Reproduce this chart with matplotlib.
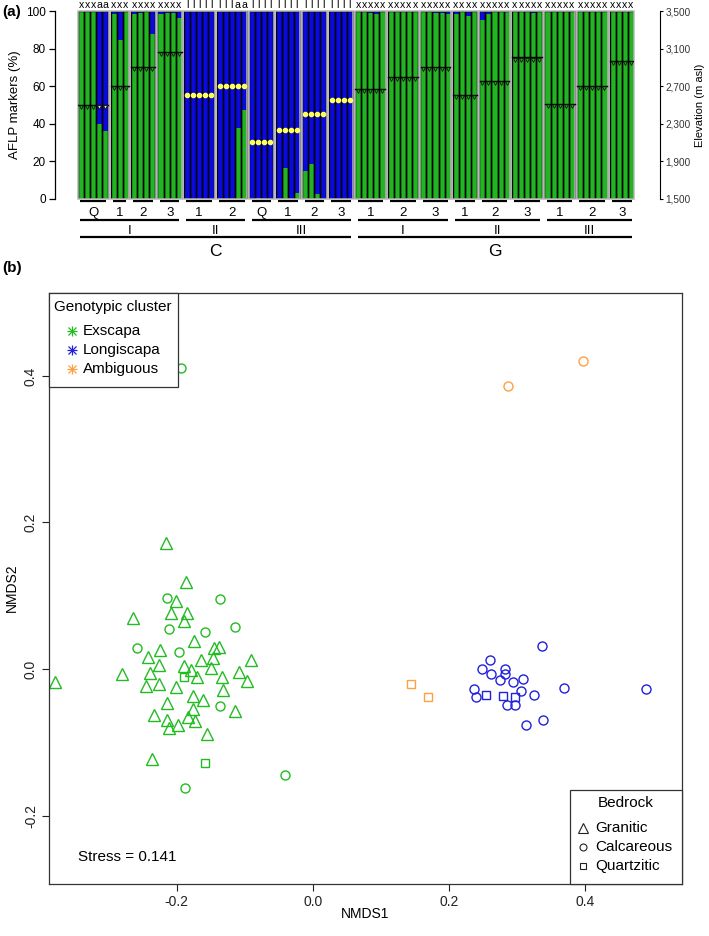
import matplotlib.pyplot as plt
from matplotlib.patches import Rectangle

plt.rcParams['font.family'] = ['Liberation Sans', 'DejaVu Sans']
plt.rcParams['axes.unicode_minus'] = False

W, H = 709, 936
GREEN = '#22b422'
BLUE = '#0a0ae0'

# ---- panel (a): one entry per population ----
taxon = ["C"] * 10 + ["G"] * 9
region = ["I", "I", "I", "I", "II", "II", "III", "III", "III", "III",
          "I", "I", "I", "II", "II", "II", "III", "III", "III"]
pop = ["Q", "1", "2", "3", "1", "2", "Q", "1", "2", "3",
       "1", "2", "3", "1", "2", "3", "1", "2", "3"]
# x = Exscapa, l = Longiscapa, a = ambiguous (one letter per individual)
cluster = ["xxxaa", "xxx", "xxxx", "xxxx", "lllll", "lllaa", "llll", "llll", "llll", "llll",
           "xxxxx", "xxxxx", "xxxxx", "xxxx", "xxxxx", "xxxxx", "xxxxx", "xxxxx", "xxxx"]
# share of Exscapa AFLP markers per individual (%)
exscapa_pct = [
    [99.5, 99.5, 99.5, 40, 36],
    [98.5, 84.5, 99.5],
    [98.5, 99, 99.5, 88],
    [98.5, 99, 99, 96.4],
    [0, 0, 0, 0, 0],
    [0, 0, 0, 37.5, 47.5],
    [0, 0.5, 0, 0],
    [0, 16.3, 0, 3],
    [15, 18.3, 2.3, 0],
    [0, 0, 0, 0],
    [99.5, 99.5, 99, 98.5, 100],
    [99.5, 99.5, 99.5, 99.5, 99.5],
    [99.5, 99.5, 99, 99, 98.5],
    [98.5, 99.5, 97.5, 99.5],
    [95, 98.5, 99.5, 99.5, 99.5],
    [99.5, 99.5, 99.5, 99, 99.5],
    [99.5, 99.5, 99.5, 99.5, 99.5],
    [99.5, 99.5, 99.5, 99.5, 99.5],
    [99.5, 99.5, 99.5, 99.5],
]
elevation = [2500, 2700, 2900, 3060, 2600, 2700, 2100, 2230, 2400, 2550,
             2670, 2800, 2905, 2605, 2755, 3005, 2505, 2705, 2965]

# ---- panel (b): NMDS scores ----
exs_tri_x = [-0.216, -0.187, -0.201, -0.208, -0.185, -0.190, -0.265, -0.175, -0.146, -0.138,
             -0.225, -0.243, -0.147, -0.165, -0.091, -0.226, -0.189, -0.149, -0.179, -0.280,
             -0.240, -0.109, -0.170, -0.133, -0.379, -0.246, -0.226, -0.201, -0.097, -0.132,
             -0.176, -0.162, -0.214, -0.176, -0.115, -0.233, -0.184, -0.173, -0.214, -0.198,
             -0.211, -0.155, -0.237]
exs_tri_y = [0.172, 0.119, 0.093, 0.077, 0.077, 0.065, 0.069, 0.038, 0.028, 0.030,
             0.026, 0.017, 0.015, 0.012, 0.012, 0.005, 0.004, 0.001, -0.001, -0.007,
             -0.006, -0.004, -0.011, -0.011, -0.018, -0.023, -0.020, -0.025, -0.016, -0.029,
             -0.037, -0.042, -0.047, -0.055, -0.057, -0.063, -0.066, -0.071, -0.070, -0.076,
             -0.081, -0.089, -0.123]
exs_cir_x = [-0.215, -0.136, -0.212, -0.159, -0.114, -0.258, -0.197, -0.137, -0.188, -0.041, -0.194]
exs_cir_y = [0.097, 0.096, 0.055, 0.050, 0.057, 0.028, 0.023, -0.051, -0.162, -0.145, 0.411]
exs_sq_x = [-0.189, -0.159]
exs_sq_y = [-0.011, -0.129]
lon_cir_x = [0.337, 0.261, 0.249, 0.282, 0.262, 0.282, 0.275, 0.294, 0.309, 0.237,
             0.240, 0.306, 0.325, 0.370, 0.285, 0.298, 0.339, 0.314, 0.490]
lon_cir_y = [0.032, 0.012, 0.000, 0.000, -0.007, -0.007, -0.015, -0.018, -0.014, -0.027,
             -0.038, -0.030, -0.035, -0.026, -0.049, -0.049, -0.070, -0.077, -0.027]
lon_sq_x = [0.255, 0.279, 0.298]
lon_sq_y = [-0.035, -0.037, -0.038]
amb_cir_x = [0.397, 0.287]
amb_cir_y = [0.420, 0.386]
amb_sq_x = [0.144, 0.169]
amb_sq_y = [-0.020, -0.038]


def fx(px):
    return px / W


def fy(py):
    return 1 - py / H


fig = plt.figure(figsize=(W / 100, H / 100), dpi=100)

# ================= panel (a) =================
ax = fig.add_axes([fx(78), fy(198.7), 556 / W, 187.7 / H])
gap = 0.35
starts = []
p = 0
for vals in exscapa_pct:
    starts.append(p)
    p += len(vals) + gap
total = p - gap

for s, vals, labs, elev in zip(starts, exscapa_pct, cluster, elevation):
    n = len(vals)
    xs = [s + i + 0.5 for i in range(n)]
    ax.bar(xs, vals, width=1, color=GREEN, linewidth=0)
    ax.bar(xs, [100 - v for v in vals], bottom=vals, width=1, color=BLUE, linewidth=0)
    ax.bar(xs, [100] * n, width=1, fill=False, edgecolor='black', linewidth=1.0)
    ax.add_patch(Rectangle((s - 0.08, 0), n + 0.16, 100, fill=False,
                           ec='#b8b8b8', lw=1.1, clip_on=False, zorder=3))
    for x, c in zip(xs, labs):
        ax.text(x, 101.5, c, ha='center', va='baseline', fontsize=7.6)
    e = (elev - 1500) / 20
    if labs.count('l') > n / 2:
        ax.plot(xs, [e] * n, 'o', ms=3.0, mfc='#ffff5a', mec='#ffff5a', zorder=4)
    else:
        ax.plot([s + 0.05, s + n - 0.05], [e, e], color='black', lw=1.0, zorder=4)
        for x, c in zip(xs, labs):
            fc = '#f0ec9a' if c == 'a' else 'none'
            ax.plot(x, e - 1.1, 'v', ms=2.8, mfc=fc, mec='#111111', mew=0.6, zorder=4)

ax.set_xlim(0, total)
ax.set_ylim(0, 100)
for side in ['top', 'right', 'bottom']:
    ax.spines[side].set_visible(False)
ax.spines['left'].set_position(('outward', 16.5))
ax.spines['left'].set_bounds(0, 100)
ax.spines['left'].set_linewidth(0.9)
ax.set_xticks([])
ax.set_yticks([0, 20, 40, 60, 80, 100])
ax.tick_params(axis='y', length=4.5, width=0.9, labelsize=8.5, pad=2)
ax.set_ylabel("AFLP markers (%)", fontsize=9.5, labelpad=4)

ax2 = ax.twinx()
ax2.set_ylim(1500, 3500)
for side in ['top', 'left', 'bottom']:
    ax2.spines[side].set_visible(False)
ax2.spines['right'].set_position(('outward', 18.5))
ax2.spines['right'].set_linewidth(0.8)
ax2.set_yticks([1500, 1900, 2300, 2700, 3100, 3500])
ax2.set_yticklabels(["1,500", "1,900", "2,300", "2,700", "3,100", "3,500"])
ax2.tick_params(axis='y', length=2.5, width=0.8, labelsize=7.2, pad=1.5, labelcolor='#333333')
ax2.set_ylabel("Elevation (m asl)", fontsize=8, labelpad=3)


# hierarchical labels under the bars
def py2pct(py):
    return (198.7 - py) / 1.877


def span_label(x0, x1, yl, yt, text, fs):
    ax.plot([x0 + 0.4, x1 - 0.4], [py2pct(yl)] * 2, color='black', lw=1.6,
            clip_on=False, solid_capstyle='butt')
    ax.text((x0 + x1) / 2, py2pct(yt), text, ha='center', va='center', fontsize=fs)


ends = [s + len(v) for s, v in zip(starts, exscapa_pct)]
for i in range(len(pop)):
    span_label(starts[i], ends[i], 201, 213, pop[i], 9.5)

keys2 = [(t, r) for t, r in zip(taxon, region)]
i = 0
while i < len(keys2):
    j = i
    while j + 1 < len(keys2) and keys2[j + 1] == keys2[i]:
        j += 1
    span_label(starts[i], ends[j], 220, 230.5, region[i], 9.5)
    i = j + 1

i = 0
while i < len(taxon):
    j = i
    while j + 1 < len(taxon) and taxon[j + 1] == taxon[i]:
        j += 1
    span_label(starts[i], ends[j], 236.7, 251, taxon[i], 12.5)
    i = j + 1

# ================= panel (b) =================
axb = fig.add_axes([fx(49), fy(884), 633 / W, 591 / H])
cols = {'E': '#22bb22', 'L': '#2020dd', 'A': '#ffa040'}
mk = dict(linestyle='none', mfc='none', mew=1.0)
axb.plot(exs_tri_x, exs_tri_y, '^', ms=8, mec=cols['E'], **mk)
axb.plot(exs_cir_x, exs_cir_y, 'o', ms=6.5, mec=cols['E'], **mk)
axb.plot(exs_sq_x, exs_sq_y, 's', ms=6, mec=cols['E'], **mk)
axb.plot(lon_cir_x, lon_cir_y, 'o', ms=6.5, mec=cols['L'], **mk)
axb.plot(lon_sq_x, lon_sq_y, 's', ms=6, mec=cols['L'], **mk)
axb.plot(amb_cir_x, amb_cir_y, 'o', ms=6.5, mec=cols['A'], **mk)
axb.plot(amb_sq_x, amb_sq_y, 's', ms=6, mec=cols['A'], **mk)

axb.set_xlim(-0.388, 0.543)
axb.set_ylim(-0.2935, 0.5133)
axb.set_xticks([-0.2, 0.0, 0.2, 0.4])
axb.set_xticklabels(["-0.2", "0.0", "0.2", "0.4"])
axb.set_yticks([-0.2, 0.0, 0.2, 0.4])
axb.set_yticklabels(["-0.2", "0.0", "0.2", "0.4"], rotation=90, va='center')
axb.tick_params(length=5, width=0.8, labelsize=10, pad=3, colors='#222222')
for sp in axb.spines.values():
    sp.set_linewidth(0.9)
    sp.set_color('#333333')

# overlay in pixel coordinates for legends and labels
ov = fig.add_axes([0, 0, 1, 1])
ov.set_xlim(0, W)
ov.set_ylim(H, 0)
ov.set_axis_off()

ov.text(2, 12, "(a)", fontsize=11, fontweight='bold', va='center')
ov.text(2, 268, "(b)", fontsize=11, fontweight='bold', va='center')
ov.text(365, 914, "NMDS1", fontsize=10, ha='center', va='center')
ov.text(12, 588, "NMDS2", fontsize=10, ha='center', va='center', rotation=90)
ov.text(78, 857, "Stress = 0.141", fontsize=11, va='center')

# genotypic cluster legend
ov.add_patch(Rectangle((49, 293), 129, 94, fc='white', ec='#333333', lw=0.9))
ov.text(54, 307, "Genotypic cluster", fontsize=11, va='center')
for yy, name, c in zip([331, 350, 369], ["Exscapa", "Longiscapa", "Ambiguous"],
                       [cols['E'], cols['L'], cols['A']]):
    ov.plot(72, yy, '+', ms=7, mec=c, mew=0.9)
    ov.plot(72, yy, 'x', ms=5.5, mec=c, mew=0.9)
    ov.text(83, yy, name, fontsize=11, va='center')

# bedrock legend
ov.add_patch(Rectangle((570, 790), 112, 94, fc='white', ec='#333333', lw=0.9))
ov.text(626, 803, "Bedrock", fontsize=11, ha='center', va='center')
for yy, name, m, s in zip([828, 847, 866], ["Granitic", "Calcareous", "Quartzitic"],
                          ['^', 'o', 's'], [6.5, 5, 5]):
    ov.plot(583, yy, m, ms=s, mfc='none', mec='#222222', mew=0.8)
    ov.text(595, yy, name, fontsize=11, va='center')

fig.savefig("out.png", dpi=100)
